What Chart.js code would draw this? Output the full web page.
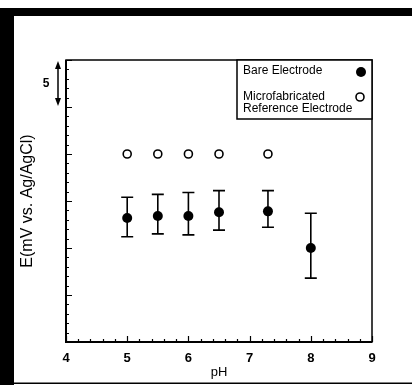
<!DOCTYPE html>
<html>
<head>
<meta charset="utf-8">
<script src="https://cdn.jsdelivr.net/npm/chart.js@4.4.0/dist/chart.umd.min.js"></script>
<style>
  html, body { margin: 0; padding: 0; background: #fff; }
  #wrap { width: 412px; height: 385px; position: relative; }
</style>
</head>
<body>
<div id="wrap"><canvas id="myChart"></canvas></div>
<script>
// values (E in mV, 5 mV per major tick)
const phBare = [5, 5.5, 6, 6.5, 7.3, 8];
const eBare = [13.2, 13.4, 13.4, 13.8, 13.9, 10.0];
const eBareHigh = [15.4, 15.7, 15.9, 16.1, 16.1, 13.7];
const eBareLow = [11.2, 11.5, 11.4, 11.9, 12.2, 6.8];
const phRef = [5, 5.5, 6, 6.5, 7.3];
const eRef = [20, 20, 20, 20, 20];
const xLabels = ['4', '5', '6', '7', '8', '9'];

const FONT = "'Liberation Sans', Arial, sans-serif";
Chart.defaults.font.family = FONT;
Chart.defaults.color = '#000';

const frame = {
  id: 'frame',
  beforeDraw(chart) {
    const ctx = chart.ctx;
    ctx.save();
    ctx.fillStyle = '#fff';
    ctx.fillRect(0, 0, chart.width, chart.height);
    ctx.fillStyle = '#000';
    ctx.fillRect(0, 8, 412, 8);
    ctx.fillRect(0, 10, 14, 375);
    ctx.fillRect(14, 382.5, 398, 1.5);
    ctx.restore();
  },
  beforeDatasetsDraw(chart) {
    // error bars of the bare electrode
    const ctx = chart.ctx, x = chart.scales.x, y = chart.scales.y;
    ctx.save();
    ctx.strokeStyle = '#000';
    ctx.lineWidth = 1.6;
    phBare.forEach((p, i) => {
      const px = x.getPixelForValue(p);
      const hi = y.getPixelForValue(eBareHigh[i]);
      const lo = y.getPixelForValue(eBareLow[i]);
      ctx.beginPath();
      ctx.moveTo(px, hi); ctx.lineTo(px, lo);
      ctx.moveTo(px - 6, hi); ctx.lineTo(px + 6, hi);
      ctx.moveTo(px - 6, lo); ctx.lineTo(px + 6, lo);
      ctx.stroke();
    });
    ctx.restore();
  },
  afterDraw(chart) {
    const ctx = chart.ctx, a = chart.chartArea;
    const x = chart.scales.x, y = chart.scales.y;
    ctx.save();
    ctx.strokeStyle = '#000';
    // inward ticks
    ctx.lineWidth = 1.2;
    ctx.beginPath();
    x.ticks.forEach(t => {
      const px = Math.round(x.getPixelForValue(t.value)) + 0.5;
      const major = Math.abs(t.value - Math.round(t.value)) < 1e-6;
      ctx.moveTo(px, a.bottom); ctx.lineTo(px, a.bottom - (major ? 6 : 3));
    });
    y.ticks.forEach(t => {
      const py = Math.round(y.getPixelForValue(t.value)) + 0.5;
      const major = t.value % 5 === 0;
      ctx.moveTo(a.left, py); ctx.lineTo(a.left + (major ? 6 : 3), py);
    });
    ctx.stroke();
    // box
    ctx.lineWidth = 1.5;
    ctx.strokeRect(a.left, a.top, a.right - a.left, a.bottom - a.top);
    ctx.lineWidth = 2;
    ctx.beginPath();
    ctx.moveTo(a.left, a.top); ctx.lineTo(a.left, a.bottom); ctx.lineTo(a.right, a.bottom);
    ctx.stroke();

    // scale indicator: arrow spanning one major step with "5"
    const top = y.getPixelForValue(30), bot = y.getPixelForValue(25);
    const ax = a.left - 8;
    ctx.lineWidth = 1.5;
    ctx.beginPath();
    ctx.moveTo(ax, top + 4); ctx.lineTo(ax, bot - 4);
    ctx.stroke();
    ctx.fillStyle = '#000';
    ctx.beginPath();
    ctx.moveTo(ax, top + 1); ctx.lineTo(ax - 3, top + 9); ctx.lineTo(ax + 3, top + 9); ctx.closePath();
    ctx.moveTo(ax, bot - 1); ctx.lineTo(ax - 3, bot - 9); ctx.lineTo(ax + 3, bot - 9); ctx.closePath();
    ctx.fill();
    ctx.font = 'bold 12px ' + FONT;
    ctx.textAlign = 'center';
    ctx.textBaseline = 'middle';
    ctx.fillText('5', ax - 12, (top + bot) / 2);

    // legend box
    const lx = 237, ly = a.top, lw = a.right - lx, lh = 59;
    ctx.fillStyle = '#fff';
    ctx.fillRect(lx, ly, lw, lh);
    ctx.lineWidth = 1.5;
    ctx.strokeRect(lx, ly, lw, lh);
    ctx.fillStyle = '#000';
    ctx.font = '12px ' + FONT;
    ctx.textAlign = 'left';
    ctx.textBaseline = 'middle';
    const ds = chart.data.datasets;
    ctx.fillText(ds[0].label, lx + 6, ly + 11);
    ctx.fillText('Microfabricated', lx + 6, ly + 37);
    ctx.fillText('Reference Electrode', lx + 6, ly + 49);
    ctx.beginPath();
    ctx.arc(361, ly + 12, 5, 0, Math.PI * 2);
    ctx.fill();
    ctx.fillStyle = '#fff';
    ctx.lineWidth = 1.6;
    ctx.beginPath();
    ctx.arc(360, ly + 37, 4, 0, Math.PI * 2);
    ctx.fill();
    ctx.stroke();
    ctx.restore();
  }
};

const ctx = document.getElementById('myChart').getContext('2d');
new Chart(ctx, {
  type: 'scatter',
  data: {
    datasets: [{
      label: 'Bare Electrode',
      data: phBare.map((p, i) => ({ x: p, y: eBare[i] })),
      pointRadius: 5,
      pointBackgroundColor: '#000',
      pointBorderColor: '#000',
      pointBorderWidth: 0
    }, {
      label: 'Microfabricated Reference Electrode',
      data: phRef.map((p, i) => ({ x: p, y: eRef[i] })),
      pointRadius: 4,
      pointBackgroundColor: '#fff',
      pointBorderColor: '#000',
      pointBorderWidth: 1.6
    }]
  },
  options: {
    responsive: true,
    maintainAspectRatio: false,
    animation: false,
    layout: { padding: { top: 60, right: 40, left: 0, bottom: 0 } },
    plugins: { legend: { display: false }, tooltip: { enabled: false } },
    scales: {
      x: {
        type: 'linear',
        min: 4, max: 9,
        afterFit(s) { s.height = 43; },
        grid: { display: false, drawTicks: false },
        border: { display: false },
        ticks: {
          stepSize: 0.2,
          autoSkip: false,
          maxRotation: 0,
          padding: 9,
          font: { size: 13, weight: 'bold' },
          callback(v) {
            const r = Math.round(v);
            return Math.abs(v - r) < 1e-6 ? xLabels[r - 4] : '';
          }
        },
        title: { display: true, text: 'pH', font: { size: 13 }, padding: { top: 0, bottom: 5 } }
      },
      y: {
        min: 0, max: 30,
        afterFit(s) { s.width = 66; },
        grid: { display: false, drawTicks: false },
        border: { display: false },
        ticks: { stepSize: 1, display: false },
        title: { display: true, text: 'E(mV vs. Ag/AgCl)', font: { size: 16 }, padding: { top: 18, bottom: 0 } }
      }
    }
  },
  plugins: [frame]
});
</script>
</body>
</html>
